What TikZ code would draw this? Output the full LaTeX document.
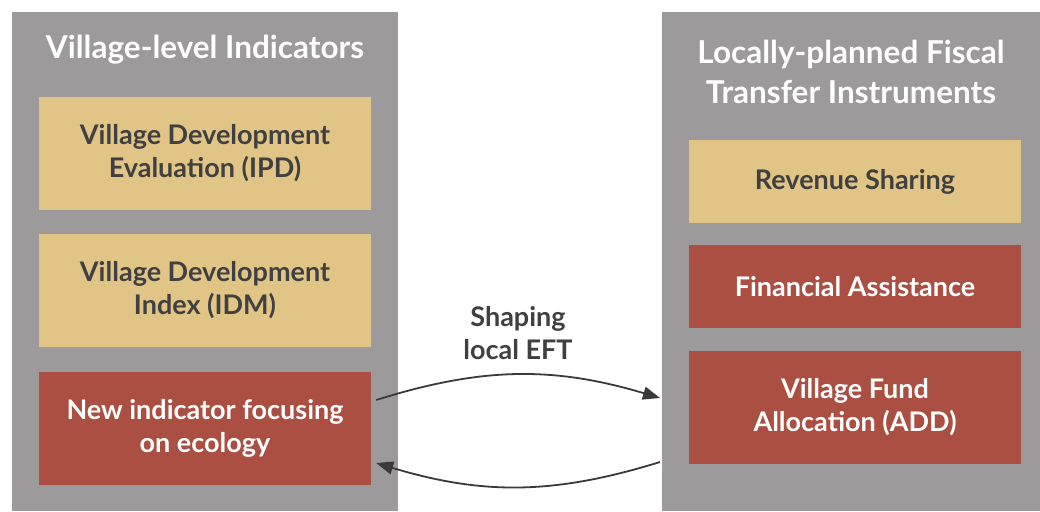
\documentclass[tikz,border=0pt]{standalone}
\usepackage{fontspec}
\setmainfont{Lato}
\usetikzlibrary{arrows.meta}

\definecolor{panelgray}{HTML}{9D9A9B}
\definecolor{tanbox}{HTML}{E1C587}
\definecolor{redbox}{HTML}{AA4F42}
\definecolor{darktext}{HTML}{404040}
\definecolor{arrowcol}{HTML}{3A3A3A}

\begin{document}
\begin{tikzpicture}[x=1pt,y=-1pt,
	panel/.style={fill=panelgray,inner sep=0pt,anchor=north west},
	title/.style={text=white,font=\bfseries\fontsize{31.5}{40}\selectfont,align=center},
	tanitem/.style={fill=tanbox,text=darktext,minimum width=332pt,inner sep=0pt,
		font=\bfseries\fontsize{27}{33}\selectfont,align=center},
	reditem/.style={tanitem,fill=redbox,text=white},
	link/.style={draw=arrowcol,line width=1.8pt,-{Triangle[length=17pt,width=13pt]}}]
	\useasboundingbox (0,0) rectangle (1040,511);
	\node[panel,minimum width=386pt,minimum height=499pt] (lpanel) at (12,12) {};
	\node[panel,minimum width=378pt,minimum height=499pt] (rpanel) at (662,12) {};
	% left column
	\node[title] (ltitle) at (205,50) {Village-level Indicators};
	\node[tanitem,minimum height=113pt] (ipd) at (205,153.5) {Village Development\\Evaluation (IPD)};
	\node[tanitem,minimum height=113pt] (idm) at (205,290.5) {Village Development\\Index (IDM)};
	\node[reditem,minimum height=113pt] (newind) at (205,428.5) {New indicator focusing\\on ecology};
	% right column
	\node[title] (rtitle) at (851,72) {Locally-planned Fiscal\\Transfer Instruments};
	\node[tanitem,minimum height=83pt] (revshare) at (855,181.5) {Revenue Sharing};
	\node[reditem,minimum height=83pt] (finassist) at (855,286.5) {Financial Assistance};
	\node[reditem,minimum height=113pt] (vfund) at (855,407.5) {Village Fund\\Allocation (ADD)};
	% links
	\coordinate (outa) at ([xshift=5pt,yshift=28.5pt]newind.east);
	\coordinate (ina) at ([xshift=-2pt,yshift=9.5pt]vfund.west -| rpanel.west);
	\coordinate (outb) at ([xshift=-2pt,yshift=-54.5pt]vfund.west -| rpanel.west);
	\coordinate (inb) at ([xshift=5pt,yshift=-34.5pt]newind.east);
	\draw[link] (outa) to[bend left=17] (ina);
	\draw[link] (outb) to[bend left=17] (inb);
	\node[text=darktext,font=\bfseries\fontsize{27}{33}\selectfont,align=center] (shaping) at (518,333) {Shaping\\local EFT};
\end{tikzpicture}
\end{document}
